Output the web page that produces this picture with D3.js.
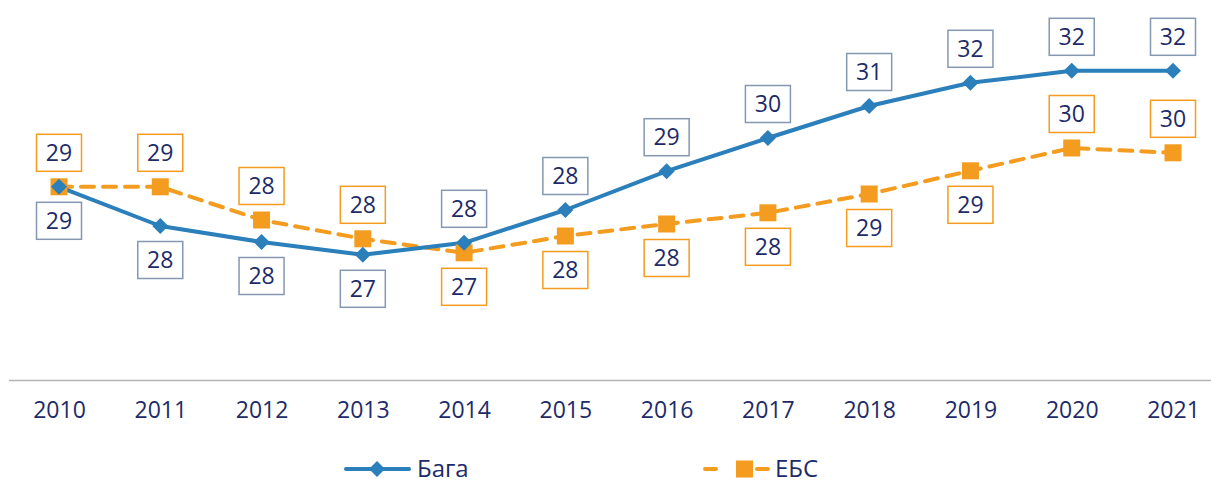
<!DOCTYPE html>
<html>
<head>
<meta charset="utf-8">
<script src="https://cdn.jsdelivr.net/npm/d3@7"></script>
<style>
  body { margin: 0; background: #fff; }
  svg { display: block; }
  text { font-family: "Open Sans", sans-serif; fill: #1d2b69; }
</style>
</head>
<body>
<svg id="chart"></svg>
<script>
const width = 1211, height = 484;

// data
const years = [2010, 2011, 2012, 2013, 2014, 2015, 2016, 2017, 2018, 2019, 2020, 2021];
const baga = [29.03, 28.05, 27.65, 27.33, 27.63, 28.45, 29.42, 30.25, 31.05, 31.63, 31.93, 31.93];
const ebs  = [29.03, 29.03, 28.2, 27.73, 27.38, 27.8, 28.1, 28.38, 28.85, 29.43, 30.0, 29.88];
// label side: 1 = above the point, -1 = below
const bagaSide = [-1, -1, -1, -1, 1, 1, 1, 1, 1, 1, 1, 1];
const ebsSide  = [1, 1, 1, 1, -1, -1, -1, -1, -1, -1, 1, 1];
const seriesNames = ["Бага", "ЕБС"];

const blue = "#2b7fba", orange = "#f39c1f";

let svg = d3.select("#chart")
    .attr("width", width)
    .attr("height", height);

let x = d3.scalePoint().domain(years).range([59, 1173]);
let y = d3.scaleLinear().domain([24.2, 33]).range([380, 28]);

// x axis
let x_axis = svg.append("g")
    .attr("transform", "translate(0,380)")
    .call(d3.axisBottom(x).tickSize(0).tickPadding(22));
x_axis.select(".domain").remove();
x_axis.selectAll("text")
    .style("font-size", "23px")
    .style("font-family", "'Open Sans', sans-serif")
    .attr("fill", "#1d2b69");

svg.append("line")
    .attr("x1", 9).attr("x2", width)
    .attr("y1", 380.5).attr("y2", 380.5)
    .style("stroke", "#b3b3b3")
    .style("stroke-width", 1.5);

let line = d3.line()
    .x((d, i) => x(years[i]))
    .y(d => y(d));

// ЕБС
svg.append("path")
    .datum(ebs)
    .attr("d", line)
    .style("fill", "none")
    .style("stroke", orange)
    .style("stroke-width", 4)
    .style("stroke-dasharray", "13,9")
    .style("stroke-linecap", "round");

// Бага
svg.append("path")
    .datum(baga)
    .attr("d", line)
    .style("fill", "none")
    .style("stroke", blue)
    .style("stroke-width", 4)
    .style("stroke-linejoin", "round");

svg.selectAll(".sq")
    .data(ebs)
    .enter()
    .append("rect")
    .attr("x", (d, i) => x(years[i]) - 8.5)
    .attr("y", d => y(d) - 8.5)
    .attr("width", 17)
    .attr("height", 17)
    .style("fill", orange);

let diamond = d3.symbol().type(d3.symbolDiamond2).size(165);
svg.selectAll(".dm")
    .data(baga)
    .enter()
    .append("path")
    .attr("d", diamond)
    .attr("transform", (d, i) => `translate(${x(years[i])},${y(d)})`)
    .style("fill", blue);

// data labels
function addLabels(values, side, border) {
    let g = svg.append("g");
    values.forEach((v, i) => {
        let cx = x(years[i]);
        let cy = y(v) - side[i] * 34;
        g.append("rect")
            .attr("x", cx - 22.5)
            .attr("y", cy - 18.5)
            .attr("width", 45)
            .attr("height", 37)
            .style("fill", "#fff")
            .style("stroke", border)
            .style("stroke-width", 1.5);
        g.append("text")
            .attr("x", cx)
            .attr("y", cy + 8)
            .style("text-anchor", "middle")
            .style("font-size", "23px")
            .text(d3.format(".0f")(v));
    });
}
addLabels(baga, bagaSide, "#8597b1");
addLabels(ebs, ebsSide, orange);

// legend
let lg = svg.append("g").attr("transform", "translate(0,469)");
lg.append("line")
    .attr("x1", 346).attr("x2", 409)
    .style("stroke", blue).style("stroke-width", 4).style("stroke-linecap", "round");
lg.append("path")
    .attr("d", diamond)
    .attr("transform", "translate(377,0)")
    .style("fill", blue);
lg.append("text")
    .attr("x", 417).attr("y", 8)
    .style("font-size", "24px")
    .text(seriesNames[0]);

lg.append("line")
    .attr("x1", 705).attr("x2", 716)
    .style("stroke", orange).style("stroke-width", 4).style("stroke-linecap", "round");
lg.append("line")
    .attr("x1", 757).attr("x2", 768)
    .style("stroke", orange).style("stroke-width", 4).style("stroke-linecap", "round");
lg.append("rect")
    .attr("x", 736).attr("y", -8.5).attr("width", 17).attr("height", 17)
    .style("fill", orange);
lg.append("text")
    .attr("x", 775).attr("y", 8)
    .style("font-size", "24px")
    .text(seriesNames[1]);
</script>
</body>
</html>
